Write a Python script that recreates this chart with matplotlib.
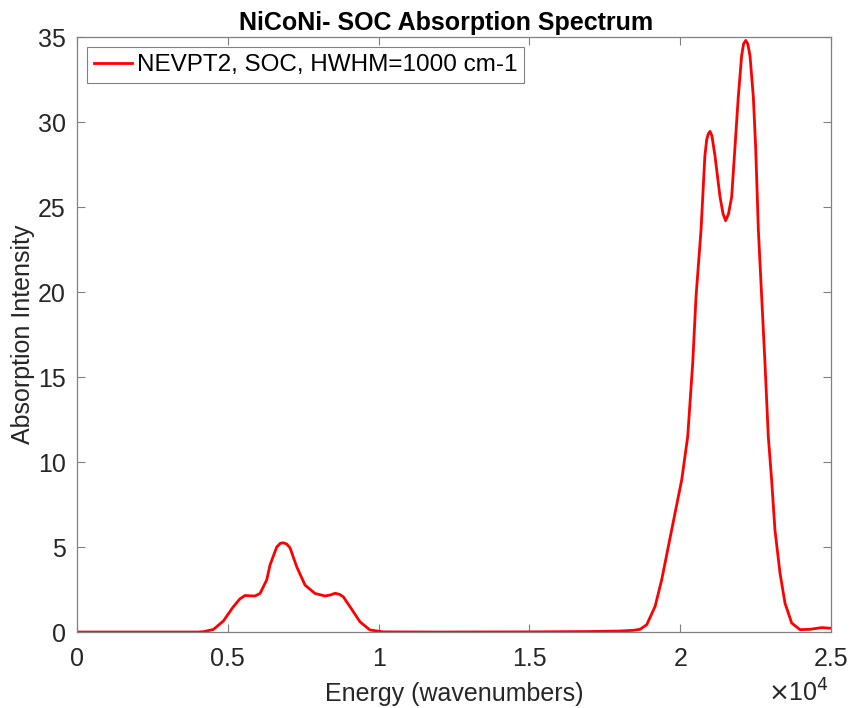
import matplotlib
matplotlib.use('Agg')
import matplotlib.pyplot as plt
import numpy as np

# spectrum (wavenumbers, intensity)
energy = [0, 2000, 4000, 4188, 4520, 4852, 5183, 5400, 5570, 5750, 5902, 6068,
          6290, 6400, 6621, 6740, 6840, 6950, 7063, 7284, 7560, 7892, 8223,
          8400, 8554, 8700, 8830, 9051, 9383, 9714, 10155, 12000, 15000, 17000,
          18000, 18445, 18667, 18889, 19165, 19386, 19607, 19828, 20050, 20248,
          20414, 20524, 20690, 20816, 20877, 20930, 20988, 21050, 21153, 21319,
          21420, 21506, 21600, 21706, 21816, 21926, 22036, 22100, 22172, 22240,
          22313, 22423, 22500, 22555, 22590, 22700, 22810, 22920, 23030, 23141,
          23308, 23474, 23695, 23972, 24303, 24691, 25000]
intensity = [0, 0, 0, 0.02, 0.15, 0.65, 1.49, 1.95, 2.15, 2.13, 2.12, 2.27,
             3.07, 3.95, 5.0, 5.22, 5.25, 5.18, 4.95, 3.84, 2.76, 2.27, 2.12,
             2.18, 2.28, 2.22, 2.07, 1.49, 0.6, 0.12, 0.01, 0, 0.01, 0.03,
             0.06, 0.1, 0.16, 0.43, 1.5, 3.08, 5.04, 7.0, 8.96, 11.5,
             15.82, 19.74, 23.66, 27.98, 28.96, 29.3, 29.45, 29.2, 28.0, 25.6,
             24.6, 24.2, 24.6, 25.6, 28.56, 31.5, 33.9, 34.6, 34.8, 34.6,
             33.9, 31.5, 28.56, 25.6, 23.66, 19.74, 15.82, 11.5, 8.96, 6.0,
             3.47, 1.7, 0.53, 0.14, 0.16, 0.26, 0.22]

xticks = [0, 5000, 10000, 15000, 20000, 25000]
xticklabels = ['0', '0.5', '1', '1.5', '2', '2.5']
yticks = [0, 5, 10, 15, 20, 25, 30, 35]

plt.rcParams['font.family'] = ['Liberation Sans', 'DejaVu Sans']
fontsz = 18
axcol = '#808080'
txtcol = '#262626'

fig = plt.figure(figsize=(8.54, 7.08), dpi=100)
fig.set_facecolor('w')
ax = fig.add_axes([0.0902, 0.1073, 0.8829, 0.8404])

ax.plot(energy, intensity, '-', color='#ff0000', linewidth=2,
        label='NEVPT2, SOC, HWHM=1000 cm-1')

ax.set_xlim(0, 25000)
ax.set_ylim(0, 35)
ax.set_xticks(xticks)
ax.set_xticklabels(xticklabels)
ax.set_yticks(yticks)
ax.tick_params(direction='in', top=True, right=True, length=6, width=0.8,
               colors=axcol, labelcolor=txtcol, labelsize=fontsz)
ax.tick_params(axis='x', pad=11)
ax.tick_params(axis='y', pad=8)
for sp in ax.spines.values():
    sp.set_color(axcol)
    sp.set_linewidth(0.9)

ax.set_xlabel('Energy (wavenumbers)', fontsize=fontsz, color=txtcol, labelpad=8)
ax.set_ylabel('Absorption Intensity', fontsize=fontsz, color=txtcol, labelpad=2)
ax.set_title('NiCoNi- SOC Absorption Spectrum', fontsize=18,
             fontweight='bold', pad=5, x=0.49)

# exponent label like matlab
ax.text(0.997, -0.08, r'$\times$10$^4$', transform=ax.transAxes, ha='right',
        va='top', fontsize=fontsz, color=txtcol)

leg = ax.legend(loc='upper left', fontsize=17.5, fancybox=False,
                framealpha=1, edgecolor=axcol, handlelength=1.55,
                handletextpad=0.2, borderpad=0.28, borderaxespad=0.42)
leg.get_frame().set_linewidth(0.8)

fig.savefig('out.png', dpi=100)
